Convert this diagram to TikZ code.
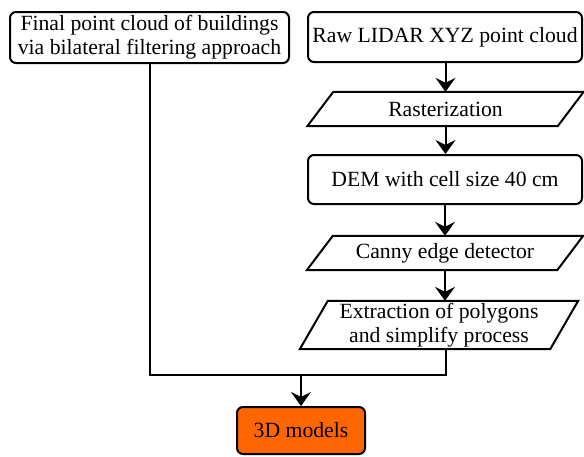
\documentclass[tikz,border=0pt]{standalone}
\usepackage{fontspec}
\setmainfont{Liberation Serif}
\usetikzlibrary{arrows.meta}
\definecolor{orng}{HTML}{FF6600}
\newcommand\paragram[2]{%
  \draw[line width=2pt,line join=miter]
    ([xshift=-#2pt]#1.south west) -- ([xshift=#2pt]#1.north west) --
    ([xshift=#2pt]#1.north east) -- ([xshift=-#2pt]#1.south east) -- cycle;}
\begin{document}
\begin{tikzpicture}[x=1pt,y=1pt,
  every node/.style={font=\fontsize{21.7}{24}\selectfont, align=center, inner sep=0pt},
  rbox/.style={draw, line width=2pt, rounded corners=6pt},
  pbox/.style={},
  conn/.style={line width=2pt},
  arr/.style={line width=2pt, -{Stealth[length=14pt,width=20pt,inset=5pt]}}]
\useasboundingbox (0,0) rectangle (584,-456);
\node[rbox, minimum width=279, minimum height=51] (final) at (149.5,-37.5)
  {Final point cloud of buildings\\via bilateral filtering approach};
\node[rbox, minimum width=274, minimum height=50] (raw) at (445,-37)
  {Raw LIDAR XYZ point cloud};
\node[pbox, minimum width=250, minimum height=34] (rast) at (445.5,-109)
  {Rasterization};
\node[rbox, minimum width=274, minimum height=49] (dem) at (445,-179.5)
  {DEM with cell size 40 cm};
\node[pbox, minimum width=250, minimum height=34] (canny) at (445,-253)
  {Canny edge detector};
\node[pbox, minimum width=250, minimum height=48] (ext) at (439,-325)
  {Extraction of polygons\\and simplify process};
\node[rbox, fill=orng, minimum width=128, minimum height=47] (models) at (301,-430.5)
  {3D models};
\paragram{rast}{13}
\paragram{canny}{13}
\paragram{ext}{14}
\draw[arr] (raw.south -| rast.north) -- (rast.north);
\draw[arr] (rast.south) -- (rast.south |- dem.north);
\draw[arr] (dem.south -| canny.north) -- (canny.north);
\draw[arr] (canny.south) -- (canny.south |- ext.north);
\coordinate (jl) at (149.5,-375);
\coordinate (jr) at (446,-375);
\draw[conn] (final.south) -- (jl) -- (jr) -- (ext.south -| jr);
\draw[arr] (models.north |- jl) -- (models.north);
\end{tikzpicture}
\end{document}
